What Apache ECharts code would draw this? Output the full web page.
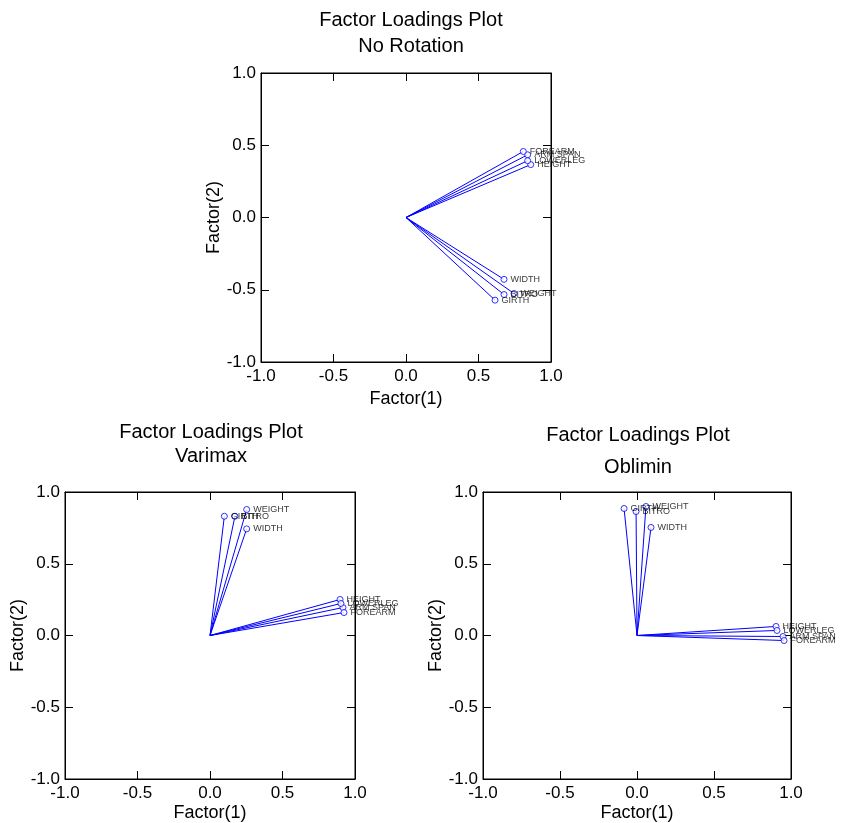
<!DOCTYPE html>
<html>
<head>
<meta charset="utf-8">
<script src="https://cdn.jsdelivr.net/npm/echarts@6/dist/echarts.min.js"></script>
<style>
  html, body { margin: 0; padding: 0; background: #fff; }
  #chart { width: 843px; height: 823px; }
</style>
</head>
<body>
<div id="chart"></div>
<script>
// Variable names shared by all three loading plots
const variables = ['HEIGHT', 'ARM SPAN', 'FOREARM', 'LOWERLEG', 'WEIGHT', 'BITRO', 'GIRTH', 'WIDTH'];

// Unrotated loadings
const noRotationF1 = [0.860, 0.839, 0.809, 0.839, 0.745, 0.676, 0.614, 0.676];
const noRotationF2 = [0.366, 0.434, 0.457, 0.393, -0.526, -0.533, -0.572, -0.428];

// Varimax loadings
const varimaxF1 = [0.897, 0.917, 0.924, 0.903, 0.253, 0.172, 0.099, 0.253];
const varimaxF2 = [0.251, 0.195, 0.160, 0.223, 0.878, 0.831, 0.831, 0.743];

// Oblimin loadings
const obliminF1 = [0.903, 0.948, 0.955, 0.909, 0.058, -0.006, -0.084, 0.091];
const obliminF2 = [0.063, -0.007, -0.035, 0.035, 0.899, 0.864, 0.885, 0.753];

const axisTicks = [-1.0, -0.5, 0.0, 0.5, 1.0];
const axisNames = ['Factor(1)', 'Factor(2)'];
const panelTitles = ['Factor Loadings Plot', 'No Rotation', 'Varimax', 'Oblimin'];

const FONT = '"Liberation Sans", Arial, sans-serif';
const BLUE = '#0000ff';

const panels = [
  { f1: noRotationF1, f2: noRotationF2, box: { left: 261, top: 73, width: 290, height: 289 } },
  { f1: varimaxF1, f2: varimaxF2, box: { left: 65, top: 492, width: 290, height: 287 } },
  { f1: obliminF1, f2: obliminF2, box: { left: 483, top: 492, width: 308, height: 287 } }
];

const grid = [], xAxis = [], yAxis = [], series = [];

function fmt(v) { return v.toFixed(1); }

panels.forEach((p, i) => {
  grid.push(Object.assign({ show: true, borderColor: '#000', borderWidth: 1, backgroundColor: 'transparent' }, p.box));
  const base = {
    type: 'value', min: axisTicks[0], max: axisTicks[axisTicks.length - 1], interval: 0.5,
    splitLine: { show: false },
    axisLine: { show: true, onZero: false, lineStyle: { color: '#000', width: 1 } },
    axisTick: { show: true, inside: true, length: 8, lineStyle: { color: '#000' } },
    gridIndex: i
  };
  // bottom / left axes with labels
  xAxis.push(Object.assign({}, base, {
    position: 'bottom',
    name: axisNames[0], nameLocation: 'middle', nameGap: i === 0 ? 28 : 25,
    nameTextStyle: { fontFamily: FONT, fontSize: 18, color: '#000' },
    axisLabel: { fontFamily: FONT, fontSize: 17, color: '#000', margin: 6, formatter: fmt }
  }));
  // top / right axes carry only inward ticks
  xAxis.push(Object.assign({}, base, { position: 'top', axisLabel: { show: false } }));
  yAxis.push(Object.assign({}, base, {
    position: 'left',
    name: axisNames[1], nameLocation: 'middle', nameGap: 30,
    nameTextStyle: { fontFamily: FONT, fontSize: 18, color: '#000' },
    axisLabel: { fontFamily: FONT, fontSize: 17, color: '#000', margin: 5, formatter: fmt }
  }));
  yAxis.push(Object.assign({}, base, { position: 'right', axisLabel: { show: false } }));

  const xi = i * 2, yi = i * 2;
  // rays from the origin to each loading
  variables.forEach((v, k) => {
    series.push({
      type: 'line', xAxisIndex: xi, yAxisIndex: yi,
      data: [[0, 0], [p.f1[k], p.f2[k]]],
      symbol: 'none', silent: true, animation: false,
      lineStyle: { color: BLUE, width: 1 }
    });
  });
  // loading markers with variable labels
  series.push({
    type: 'scatter', xAxisIndex: xi, yAxisIndex: yi,
    data: variables.map((v, k) => ({ name: v, value: [p.f1[k], p.f2[k]] })),
    symbol: 'circle', symbolSize: 6, animation: false,
    itemStyle: { color: '#fff', borderColor: BLUE, borderWidth: 1 },
    label: {
      show: true, position: 'right', distance: 3,
      formatter: '{b}', fontFamily: FONT, fontSize: 9, color: '#000'
    },
    labelLayout: { hideOverlap: false },
    z: 5
  });
});

const titleStyle = { fontFamily: FONT, fontSize: 20, fontWeight: 'normal', color: '#000' };
const title = [
  { text: panelTitles[0], left: 406, top: 5, textAlign: 'center', textStyle: titleStyle },
  { text: panelTitles[1], left: 406, top: 31, textAlign: 'center', textStyle: titleStyle },
  { text: panelTitles[0], left: 206, top: 417, textAlign: 'center', textStyle: titleStyle },
  { text: panelTitles[2], left: 206, top: 441, textAlign: 'center', textStyle: titleStyle },
  { text: panelTitles[0], left: 633, top: 420, textAlign: 'center', textStyle: titleStyle },
  { text: panelTitles[3], left: 633, top: 452, textAlign: 'center', textStyle: titleStyle }
];

const chart = echarts.init(document.getElementById('chart'), null, { renderer: 'canvas' });
chart.setOption({
  backgroundColor: '#fff',
  animation: false,
  title: title,
  grid: grid,
  xAxis: xAxis,
  yAxis: yAxis,
  series: series
});
</script>
</body>
</html>
